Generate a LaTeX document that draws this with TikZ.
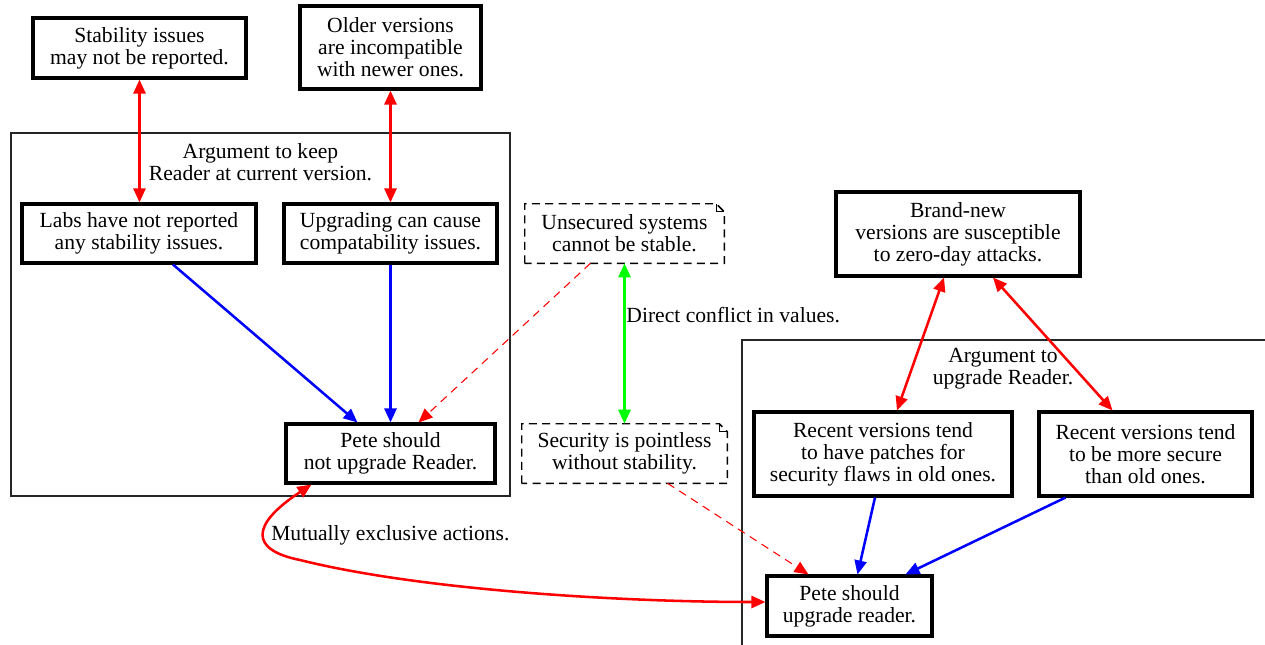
\documentclass[tikz,border=0pt]{standalone}
\usepackage{fontspec}
\setmainfont{Liberation Serif}
\usetikzlibrary{arrows.meta,calc}

\tikzset{
  claim/.style={draw, line width=2.3pt, align=center, inner sep=2pt},
  notebox/.style={align=center, inner sep=2pt},
  noteline/.style={line width=1.1pt, dash pattern=on 6pt off 4pt},
  cluster/.style={draw=black!85, line width=0.8pt},
  attack/.style={red, line width=1.9pt, {Triangle[length=10.5pt,width=9pt]}-{Triangle[length=10.5pt,width=9pt]}},
  support/.style={blue, line width=1.9pt, -{Triangle[length=10.5pt,width=9pt]}},
  premise/.style={red, line width=0.8pt, dash pattern=on 6pt off 4.5pt, -{Triangle[length=10.5pt,width=9pt]}},
  values/.style={green, line width=1.9pt, {Triangle[length=10.5pt,width=9pt]}-{Triangle[length=10.5pt,width=9pt]}}
}

% dashed note outline with folded corner
\newcommand{\noteoutline}[1]{%
  \draw[noteline] (#1.south west) -- (#1.north west) -- ([xshift=-6pt]#1.north east)
    -- ([yshift=-6pt]#1.north east) -- (#1.south east) -- cycle;
  \draw[line width=0.8pt] ([xshift=-6pt]#1.north east) |- ([yshift=-6pt]#1.north east);
}

\begin{document}
\begin{tikzpicture}[x=0.75pt,y=-0.75pt,font=\fontsize{16.2}{16.5}\selectfont]
\useasboundingbox (0,0) rectangle (1265,644);

% clusters
\draw[cluster] (11,133) rectangle (510,496);
\node[align=center] (keeplbl) at (260.5,162) {Argument to keep\\Reader at current version.};
\draw[cluster] (742,650) |- (1270,340);
\node[align=center] (upglbl) at (1003,369) {Argument to\\upgrade Reader.};

% claims
\node[claim, minimum width=159.75pt, minimum height=45pt] (stab) at (139.5,48) {Stability issues\\may not be reported.};
\node[claim, minimum width=135.75pt, minimum height=62.25pt] (older) at (390.5,47.5) {Older versions\\are incompatible\\with newer ones.};
\node[claim, minimum width=175.5pt, minimum height=44.25pt] (labs) at (139,233.5) {Labs have not reported\\any stability issues.};
\node[claim, minimum width=159.75pt, minimum height=44.25pt] (upg) at (390.5,233.5) {Upgrading can cause\\compatability issues.};
\node[claim, minimum width=156.75pt, minimum height=44.25pt] (notup) at (390.5,453.5) {Pete should\\not upgrade Reader.};
\node[claim, minimum width=183pt, minimum height=63pt] (brand) at (958,234) {Brand-new\\versions are susceptible\\to zero-day attacks.};
\node[claim, minimum width=193.5pt, minimum height=63pt] (recent1) at (883,454) {Recent versions tend\\to have patches for\\security flaws in old ones.};
\node[claim, minimum width=159.75pt, minimum height=63pt] (recent2) at (1145.5,454) {Recent versions tend\\to be more secure\\than old ones.};
\node[claim, minimum width=123.75pt, minimum height=45pt] (pete) at (849.5,606) {Pete should\\upgrade reader.};

% values
\node[notebox, minimum width=149.25pt, minimum height=44.25pt] (unsec) at (624.5,233.5) {Unsecured systems\\cannot be stable.};
\noteoutline{unsec}
\node[notebox, minimum width=153.75pt, minimum height=44.25pt] (secpoint) at (624.5,453.5) {Security is pointless\\without stability.};
\noteoutline{secpoint}

% edges
\draw[attack] (stab.south) -- (stab.south |- labs.north);
\draw[attack] (older.south) -- (upg.north);
\draw[support] ($(labs.south)+(34,0)$) -- ($(notup.north)+(-33,0)$);
\draw[support] (upg.south) -- (notup.north);
\draw[premise] ($(unsec.south)+(-34,0)$) -- ($(notup.north)+(28,0)$);
\draw[values] (unsec.south) -- (secpoint.north)
  node[pos=0.32, right, inner sep=0.5pt, text=black] (conflbl) {Direct conflict in values.};
\draw[premise] ($(secpoint.south)+(43,0)$) -- ($(pete.north)+(-41,0)$);
\draw[support] ($(recent1.south)+(-8,0)$) -- ($(pete.north)+(8,0)$);
\draw[support] ($(recent2.south)+(-80,0)$) -- ($(pete.north)+(56,0)$);
\draw[attack] ($(brand.south)+(-14,0)$) -- ($(recent1.north)+(14,0)$);
\draw[attack] ($(brand.south)+(35,0)$) -- ($(recent2.north)+(-33,0)$);
\draw[attack] ($(notup.south west)+(27,0)$) .. controls (250,525) and (250,550) .. (300,560)
  .. controls (420,590) and (620,602) .. ($(pete.west)+(0,-4)$);
\node[anchor=west, inner sep=0pt] (mutlbl) at (271,535) {Mutually exclusive actions.};

\end{tikzpicture}
\end{document}
